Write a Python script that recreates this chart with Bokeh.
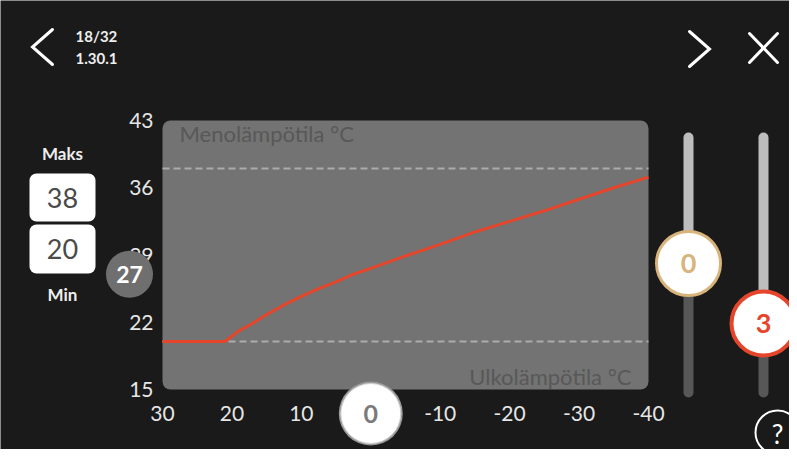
from bokeh.plotting import figure
from bokeh.models import Range1d
from bokeh.core.properties import value
from bokeh.embed import file_html
from bokeh.resources import INLINE

# ---------------- data ----------------
outdoor_temp = [30, 21, 19, 17, 15, 12.5, 10, 7.5, 5, 2.5, 0, -5, -10, -15, -20, -25, -30, -35, -40]
flow_temp = [20, 20, 21.1, 21.9, 22.8, 23.8, 24.7, 25.5, 26.2, 27.0, 27.6, 28.9, 30.1, 31.4, 32.5, 33.6, 34.8, 36.0, 37.1]
x_ticks = [30, 20, 10, 0, -10, -20, -30, -40]
y_ticks = [43, 36, 29, 22, 15]
max_flow = [38]
min_flow = [20]
current_outdoor = [0]
current_flow = [27]
slider_values = ["0", "3"]
page_text = ["18/32", "1.30.1"]
y_title = ["Menolämpötila °C"]
x_title = ["Ulkolämpötila °C"]

# ---------------- layout (pixels in picture) ----------------
W, H, OFF = 789, 449, 0
PX_X30, PX_XM40 = 162.0, 648.0
PX_Y15, PX_Y43 = 389.0, 120.0
sx = (PX_XM40 - PX_X30) / (-40 - 30)     # px per unit (negative)
sy = (PX_Y43 - PX_Y15) / (43 - 15)       # px per unit (negative)

def fx(px):
    return 30 + (px - PX_X30) / sx

def fy(py):
    return 15 + (py - PX_Y15) / sy

FONT = value("Lato")
BG = "#1a1a1a"
RED = "#e5462b"
GOLD = "#d8b47c"

p = figure(width=W, height=H, output_backend="svg", toolbar_location=None,
           x_range=Range1d(fx(OFF), fx(OFF + W)), y_range=Range1d(fy(OFF + H), fy(OFF)),
           x_axis_type=None, y_axis_type=None, min_border=0,
           background_fill_color=BG, border_fill_color=BG, outline_line_color=None)

# chart panel
p.quad(left=[x_ticks[0]], right=[x_ticks[-1]], top=[y_ticks[0]], bottom=[y_ticks[-1]],
       fill_color="#737373", line_color=None, border_radius=8)

# limit lines
for v in (max_flow[0], min_flow[0]):
    p.line([x_ticks[0], x_ticks[-1]], [v, v], line_color="#acacac", line_width=2,
           line_dash="7 4")

# heating curve
p.line(outdoor_temp, flow_temp, line_color=RED, line_width=3, line_join="round")

# panel titles
p.text([fx(179)], [fy(133)], text=y_title, text_font=FONT, text_font_size="22px",
       text_color="#585858", text_align="left", text_baseline="middle")
p.text([fx(631)], [fy(376)], text=x_title, text_font=FONT, text_font_size="22px",
       text_color="#585858", text_align="right", text_baseline="middle")

# tick labels
p.text([fx(153)] * len(y_ticks), y_ticks, text=[str(t) for t in y_ticks], text_font=FONT,
       text_font_size="21px", text_color="#e6e6e6", text_align="right", text_baseline="middle")
p.text(x_ticks, [fy(413)] * len(x_ticks), text=[str(t) for t in x_ticks], text_font=FONT,
       text_font_size="21px", text_color="#e6e6e6", text_align="center", text_baseline="middle")

# current flow marker on y axis
p.scatter([fx(129)], current_flow, size=47, fill_color="#6f6f6f", line_color=None)
p.text([fx(129)], current_flow, text=[str(v) for v in current_flow], text_font=FONT,
       text_font_size="23px", text_font_style="bold", text_color="white",
       text_align="center", text_baseline="middle")

# current outdoor marker on x axis
p.scatter(current_outdoor, [fy(413)], size=64, fill_color="#9a9a9a", line_color=None)
p.scatter(current_outdoor, [fy(413)], size=60, fill_color="white", line_color="#d0d0d0", line_width=1)
p.text(current_outdoor, [fy(413)], text=[str(v) for v in current_outdoor], text_font=FONT,
       text_font_size="25px", text_font_style="bold", text_color="#7a7a7a",
       text_align="center", text_baseline="middle")

# max / min boxes
p.text([fx(62)], [fy(153)], text=["Maks"], text_font=FONT, text_font_size="17px",
       text_font_style="bold", text_color="#eeeeee", text_align="center", text_baseline="middle")
p.text([fx(62)], [fy(294)], text=["Min"], text_font=FONT, text_font_size="17px",
       text_font_style="bold", text_color="#eeeeee", text_align="center", text_baseline="middle")
p.quad(left=[fx(29), fx(29)], right=[fx(95), fx(95)], top=[fy(173), fy(224)],
       bottom=[fy(221), fy(273)], fill_color="white", line_color=None, border_radius=7)
p.text([fx(62), fx(62)], [fy(197), fy(248)], text=[str(max_flow[0]), str(min_flow[0])],
       text_font=FONT, text_font_size="27px", text_color="#4a4a4a",
       text_align="center", text_baseline="middle")

# sliders
sliders = [(688, 263, GOLD, 3), (763, 323, RED, 4)]
for (sxp, ky, col, lw), lab in zip(sliders, slider_values):
    p.segment([fx(sxp)], [fy(137)], [fx(sxp)], [fy(ky)], line_color="#bdbdbd",
              line_width=10, line_cap="round")
    p.segment([fx(sxp)], [fy(ky)], [fx(sxp)], [fy(392)], line_color="#575757",
              line_width=10, line_cap="round")
    p.scatter([fx(sxp)], [fy(ky)], size=64, fill_color="white", line_color=col, line_width=lw)
    p.text([fx(sxp)], [fy(ky)], text=[lab], text_font=FONT, text_font_size="27px",
           text_font_style="bold", text_color=col, text_align="center", text_baseline="middle")

# top bar
p.line([fx(52), fx(32), fx(52)], [fy(29), fy(46.5), fy(64)], line_color="white",
       line_width=3, line_cap="round", line_join="miter")
p.line([fx(689), fx(709), fx(689)], [fy(31), fy(48.5), fy(66)], line_color="white",
       line_width=3, line_cap="round", line_join="miter")
p.segment([fx(749), fx(749)], [fy(33), fy(62)], [fx(777), fx(777)], [fy(62), fy(33)],
          line_color="white", line_width=3, line_cap="round")
p.text([fx(75), fx(75)], [fy(35), fy(58)], text=page_text, text_font=FONT,
       text_font_size="15px", text_font_style="bold", text_color="#eeeeee",
       text_align="left", text_baseline="middle")

# help button
p.scatter([fx(777)], [fy(432)], size=44, fill_color=None, line_color="white", line_width=2)
p.text([fx(777)], [fy(433)], text=["?"], text_font=FONT, text_font_size="26px",
       text_color="white", text_align="center", text_baseline="middle")

open("out.html", "w").write(file_html(p, INLINE))
